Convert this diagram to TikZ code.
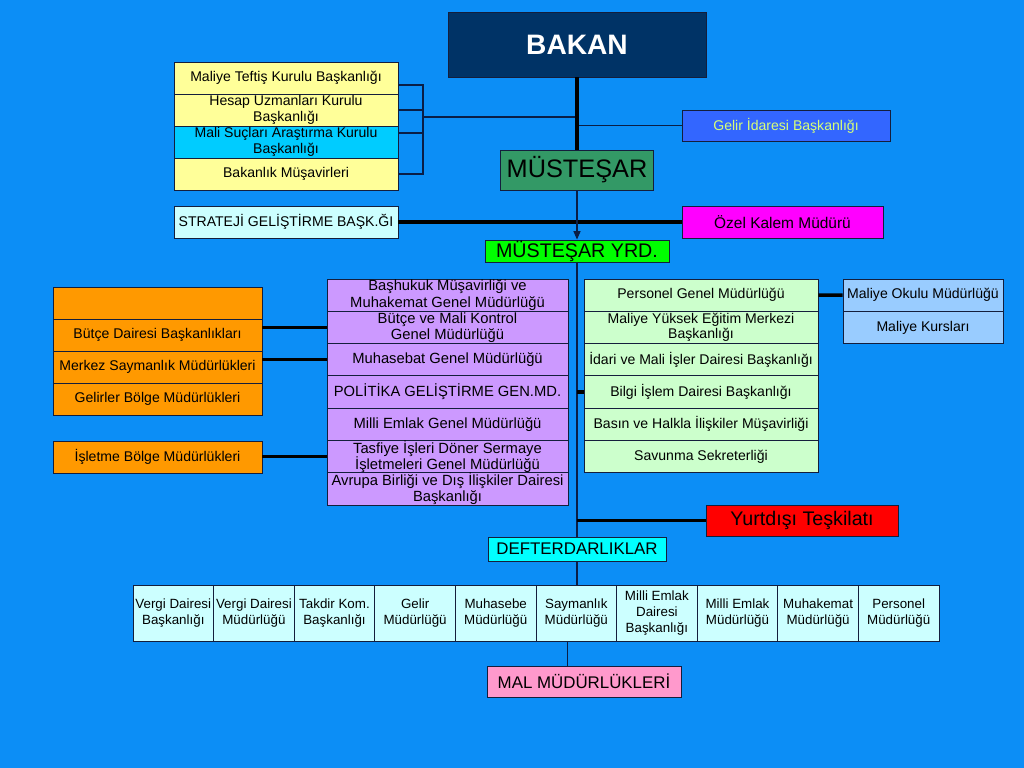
\documentclass[tikz,border=0pt]{standalone}
\usepackage{fontspec}
\setmainfont{Liberation Sans}
\usetikzlibrary{arrows.meta, positioning, calc}
\definecolor{bgc}{RGB}{12,142,246}
\definecolor{navyc}{RGB}{0,51,102}
\definecolor{edgec}{RGB}{20,30,60}
\definecolor{linec}{RGB}{10,30,70}
\definecolor{yellowc}{RGB}{255,255,153}
\definecolor{skyc}{RGB}{0,204,255}
\definecolor{icec}{RGB}{204,255,255}
\definecolor{royalc}{RGB}{51,102,255}
\definecolor{limec}{RGB}{215,255,120}
\definecolor{seac}{RGB}{51,153,102}
\definecolor{magc}{RGB}{255,0,255}
\definecolor{grnc}{RGB}{0,255,0}
\definecolor{lilac}{RGB}{204,153,255}
\definecolor{mintc}{RGB}{204,255,204}
\definecolor{paleblc}{RGB}{153,204,255}
\definecolor{orc}{RGB}{255,153,0}
\definecolor{redc}{RGB}{255,0,0}
\definecolor{cyanc}{RGB}{0,255,255}
\definecolor{pinkc}{RGB}{255,153,204}
\tikzset{
  box/.style={
    rectangle, draw=edgec, line width=0.6pt, inner sep=0pt,
    align=center, text=black, font=\fontsize{10}{11}\selectfont
  },
  topbox/.style={box, minimum width=5.6cm, minimum height=0.8cm},
  midbox/.style={box, minimum height=0.8075cm, font=\fontsize{10.5}{11.5}\selectfont},
  orbox/.style={box, fill=orc, minimum width=5.225cm, minimum height=0.8cm},
  rowbox/.style={box, fill=icec, minimum width=2.015cm, minimum height=1.4cm,
                 font=\fontsize{9.5}{11.5}\selectfont},
  lnk/.style={draw=linec, line width=0.8pt},
  bold/.style={draw=black, line width=2.4pt},
  arr/.style={lnk, -{Triangle[length=6pt, width=5pt]}},
}

\begin{document}
\begin{tikzpicture}[x=0.025cm, y=-0.025cm]

  \fill[bgc] (0,0) rectangle (1024,768);
  \useasboundingbox (0,0) rectangle (1024,768);

  % top of the chart
  \node[box, fill=navyc, text=white, minimum width=6.45cm, minimum height=1.625cm,
        font=\fontsize{20}{24}\selectfont\bfseries] (bk) at (577,44.5) {BAKAN};
  \node[box, fill=seac, minimum width=3.825cm, minimum height=1.0cm,
        font=\fontsize{18}{21}\selectfont] (ms) at (577,170) {MÜSTEŞAR};
  \node[box, fill=grnc, minimum width=4.6cm, minimum height=0.55cm,
        font=\fontsize{14}{16}\selectfont] (yd) at (577,251) {MÜSTEŞAR YRD.};
  \node[box, fill=royalc, text=limec, minimum width=5.2cm, minimum height=0.775cm]
    (gl) at (786,125.5) {Gelir İdaresi Başkanlığı};
  \node[box, fill=magc, minimum width=5.025cm, minimum height=0.8cm,
        font=\fontsize{11}{13}\selectfont] (oz) at (782.5,222) {Özel Kalem Müdürü};
  \node[topbox, fill=icec] (st) at (286,222) {STRATEJİ GELİŞTİRME BAŞK.ĞI};

  \foreach \t/\c [count=\i] in {
      {Maliye Teftiş Kurulu Başkanlığı}/yellowc,
      {Hesap Uzmanları Kurulu\\Başkanlığı}/yellowc,
      {Mali Suçları Araştırma Kurulu\\Başkanlığı}/skyc,
      {Bakanlık Müşavirleri}/yellowc} {
    \node[topbox, fill=\c] (t\i) at (286,{46+32*\i}) {\t};
  }

  % middle columns
  \foreach \t [count=\i] in {
      {Başhukuk Müşavirliği ve\\Muhakemat Genel Müdürlüğü},
      {Bütçe ve Mali Kontrol\\Genel Müdürlüğü},
      {Muhasebat Genel Müdürlüğü},
      {POLİTİKA GELİŞTİRME GEN.MD.},
      {Milli Emlak Genel Müdürlüğü},
      {Tasfiye İşleri Döner Sermaye\\İşletmeleri Genel Müdürlüğü},
      {Avrupa Birliği ve Dış İlişkiler Dairesi\\Başkanlığı}} {
    \node[midbox, fill=lilac, minimum width=6.025cm] (p\i) at (447.5,{262.85+32.3*\i}) {\t};
  }
  \foreach \t [count=\i] in {
      {Personel Genel Müdürlüğü},
      {Maliye Yüksek Eğitim Merkezi\\Başkanlığı},
      {İdari ve Mali İşler Dairesi Başkanlığı},
      {Bilgi İşlem Dairesi Başkanlığı},
      {Basın ve Halkla İlişkiler Müşavirliği},
      {Savunma Sekreterliği}} {
    \node[midbox, fill=mintc, minimum width=5.85cm, font=\fontsize{10}{11}\selectfont]
      (g\i) at (701,{262.85+32.3*\i}) {\t};
  }
  \node[midbox, fill=paleblc, minimum width=4cm, font=\fontsize{10}{11}\selectfont]
    (k1) at (923,295.15) {Maliye Okulu Müdürlüğü};
  \node[midbox, fill=paleblc, minimum width=4cm, font=\fontsize{10}{11}\selectfont]
    (k2) at (923,327.45) {Maliye Kursları};

  \foreach \t [count=\i] in {{}, {Bütçe Dairesi Başkanlıkları},
      {Merkez Saymanlık Müdürlükleri}, {Gelirler Bölge Müdürlükleri}} {
    \node[orbox] (o\i) at (157.5,{271+32*\i}) {\t};
  }
  \node[orbox] (ob) at (157.5,457) {İşletme Bölge Müdürlükleri};

  % lower part
  \node[box, fill=redc, minimum width=4.8cm, minimum height=0.775cm,
        font=\fontsize{14}{16}\selectfont] (yt) at (802,520.5) {Yurtdışı Teşkilatı};
  \node[box, fill=cyanc, minimum width=4.45cm, minimum height=0.6cm,
        font=\fontsize{12}{14}\selectfont] (df) at (577,549) {DEFTERDARLIKLAR};

  \foreach \t [count=\i] in {
      {Vergi Dairesi\\Başkanlığı}, {Vergi Dairesi\\Müdürlüğü}, {Takdir Kom.\\Başkanlığı},
      {Gelir\\Müdürlüğü}, {Muhasebe\\Müdürlüğü}, {Saymanlık\\Müdürlüğü},
      {Milli Emlak\\Dairesi\\Başkanlığı}, {Milli Emlak\\Müdürlüğü},
      {Muhakemat\\Müdürlüğü}, {Personel\\Müdürlüğü}} {
    \node[rowbox] (r\i) at ({92.7+80.6*\i},613) {\t};
  }
  \node[box, fill=pinkc, minimum width=4.85cm, minimum height=0.775cm,
        font=\fontsize{12}{14}\selectfont] (ml) at (584,681.5) {MAL MÜDÜRLÜKLERİ};

  % connectors
  \coordinate (brk) at (423,117);
  \draw[lnk] ([yshift=-0.175cm]t1.east) -- ([yshift=-0.175cm]t1.east -| brk)
    -- (t4.east -| brk) -- (t4.east);
  \draw[lnk] (t2.east) -- (t2.east -| brk);
  \draw[lnk] ([yshift=0.225cm]t3.east) -- ([yshift=0.225cm]t3.east -| brk);
  \draw[lnk] (brk) -- (brk -| bk.south);
  \draw[lnk] (gl.west) -- (gl.west -| bk.south);
  \draw[bold] (bk.south) -- (ms.north);
  \draw[bold] (st.east) -- (oz.west);
  \draw[arr] (ms.south) -- (yd.north);
  \draw[lnk] (yd.south) -- (df.north);
  \draw[lnk] (df.south) -- (df.south |- r6.north);
  \draw[bold] (p2.west) -- (p2.west -| o2.east);
  \draw[bold] (p3.west) -- (p3.west -| o3.east);
  \draw[bold] (p6.west) -- (p6.west -| ob.east);
  \draw[bold] (g4.west) -- (g4.west -| yd.south);
  \draw[bold] (g1.east) -- (k1.west);
  \draw[bold] (yt.west) -- (yt.west -| yd.south);
  \draw[lnk] ([xshift=-0.225cm]r6.south) -- ([xshift=-0.225cm]r6.south |- ml.north);

\end{tikzpicture}
\end{document}
